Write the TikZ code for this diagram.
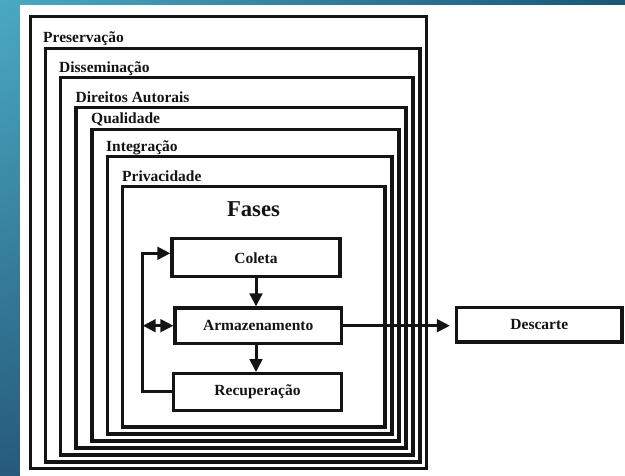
\documentclass[tikz,border=0pt]{standalone}
\usepackage{fontspec}
\setmainfont{Liberation Serif}
\usetikzlibrary{arrows.meta,shadings}
\definecolor{bgA}{HTML}{4AAAC2}
\definecolor{bgB}{HTML}{1A5676}
\definecolor{bgC}{HTML}{265A7C}
\definecolor{ink}{HTML}{141414}
\begin{document}
\begin{tikzpicture}[x=1pt,y=-1pt,
  frame/.style={line width=3.4pt,draw=ink},
  lbl/.style={anchor=base west,inner sep=0pt,text=ink,font=\fontsize{15.5}{18}\selectfont\bfseries},
  phase/.style={draw=ink,line width=3.2pt,inner sep=0pt,text=ink,font=\fontsize{15.5}{18}\selectfont\bfseries},
  conn/.style={line width=3pt,draw=ink,-{Triangle[length=13pt,width=12.5pt]}}]
\useasboundingbox (0,0) rectangle (625,476);
\shade[upper left=bgA, upper right=bgB, lower left=bgC, lower right=bgB] (0,0) rectangle (625,476);
\fill[white] (20,5) rectangle (625,476);
% nested frames
\draw[frame] (30.3,16.3) rectangle (426.2,468.7);
\draw[frame] (45.5,48.3) rectangle (420,461.8);
\draw[frame] (60.7,77.8) rectangle (413,454.8);
\draw[frame] (76,107.8) rectangle (406,447.9);
\draw[frame] (91.8,129.3) rectangle (399,440.9);
\draw[frame] (107.3,156.8) rectangle (392,433.9);
\draw[frame] (122.5,186.8) rectangle (385,427);
% frame labels
\node[lbl] (l1) at (43,43) {Preservação};
\node[lbl] (l2) at (59,72.8) {Disseminação};
\node[lbl] (l3) at (75.5,102.3) {Direitos Autorais};
\node[lbl] (l4) at (91,123.8) {Qualidade};
\node[lbl] (l5) at (106,151.5) {Integração};
\node[lbl] (l6) at (122,181.3) {Privacidade};
\node[anchor=base,inner sep=0pt,text=ink,font=\fontsize{22.7}{26}\selectfont\bfseries] (fases) at (253.5,216.5) {Fases};
% phases
\node[phase,minimum width=168pt,minimum height=38pt] (col) at (256,257.7) {Coleta};
\node[phase,minimum width=166.3pt,minimum height=35.3pt] (arm) at (258.2,325.7) {Armazenamento};
\node[phase,minimum width=167.6pt,minimum height=36.6pt] (rec) at (257.5,392) {Recuperação};
\node[phase,minimum width=165.5pt,minimum height=34.8pt] (des) at (539.3,324.6) {Descarte};
% connectors
\coordinate (lft) at (142.7,0);
\coordinate (ctop) at ([yshift=4.4pt]col.west);
\draw[conn] (col.south) -- (col.south |- arm.north);
\draw[conn] (col.south |- arm.south) -- (col.south |- rec.north);
\draw[conn] (rec.west) -- (rec.west -| lft) -- (lft |- ctop) -- (ctop);
\draw[line width=3pt,draw=ink,{Triangle[length=13pt,width=12.5pt]}-{Triangle[length=13pt,width=12.5pt]}] (arm.west -| lft) -- (arm.west);
\draw[conn,shorten >=5pt] (arm.east) -- (arm.east -| des.west);
\end{tikzpicture}
\end{document}
